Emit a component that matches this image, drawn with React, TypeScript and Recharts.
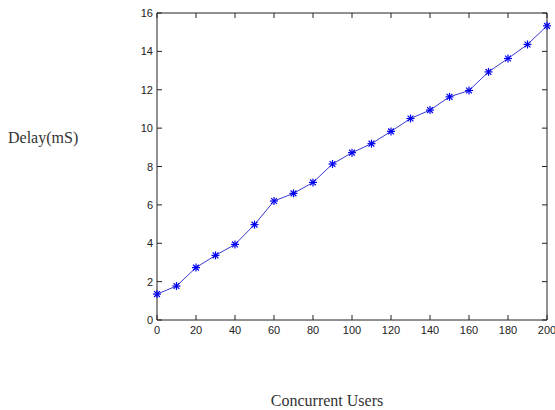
import React from 'react';
import { LineChart, Line, XAxis, YAxis } from 'recharts';

const users = [0, 10, 20, 30, 40, 50, 60, 70, 80, 90, 100, 110, 120, 130, 140, 150, 160, 170, 180, 190, 200];
const delay = [1.35, 1.77, 2.73, 3.37, 3.94, 4.97, 6.2, 6.6, 7.17, 8.13, 8.72, 9.19, 9.83, 10.5, 10.94, 11.63, 11.96, 12.93, 13.63, 14.36, 15.33];
const xTicks = [0, 20, 40, 60, 80, 100, 120, 140, 160, 180, 200];
const yTicks = [0, 2, 4, 6, 8, 10, 12, 14, 16];

const data = users.map((u, i) => ({ x: u, y: delay[i] }));

const AXIS = '#222';
const TICK_FONT = '"Liberation Sans", Arial, sans-serif';
const LEN = 5;

const LeftTick = (p: any) => (
  <g>
    <line x1={p.x} y1={p.y} x2={p.x + LEN} y2={p.y} stroke={AXIS} />
    <text x={p.x - 4} y={p.y + 4} textAnchor="end" fontSize={11} fontFamily={TICK_FONT} fill="#222">
      {p.payload.value}
    </text>
  </g>
);
const RightTick = (p: any) => (
  <line x1={p.x} y1={p.y} x2={p.x - LEN} y2={p.y} stroke={AXIS} />
);
const BottomTick = (p: any) => (
  <g>
    <line x1={p.x} y1={p.y} x2={p.x} y2={p.y - LEN} stroke={AXIS} />
    <text x={p.x} y={p.y + 14} textAnchor="middle" fontSize={11} fontFamily={TICK_FONT} fill="#222">
      {p.payload.value}
    </text>
  </g>
);
const TopTick = (p: any) => (
  <line x1={p.x} y1={p.y} x2={p.x} y2={p.y + LEN} stroke={AXIS} />
);

const Star = (p: any) => {
  const { cx, cy } = p;
  if (cx == null || cy == null) return null;
  const r = 4;
  const d = 2.9;
  return (
    <g stroke="#0000f0" strokeWidth={1.2}>
      <line x1={cx - r} y1={cy} x2={cx + r} y2={cy} />
      <line x1={cx} y1={cy - r} x2={cx} y2={cy + r} />
      <line x1={cx - d} y1={cy - d} x2={cx + d} y2={cy + d} />
      <line x1={cx - d} y1={cy + d} x2={cx + d} y2={cy - d} />
    </g>
  );
};

const YTitle = (p: any) => {
  const vb = p.viewBox || {};
  return (
    <text x={(vb.x ?? 0) + 8} y={(vb.y ?? 0) + 130} fontSize={16} fontFamily='"Liberation Serif", "Times New Roman", serif' fill="#333">
      Delay(mS)
    </text>
  );
};
const XTitle = (p: any) => {
  const vb = p.viewBox || {};
  return (
    <text x={(vb.x ?? 0) + (vb.width ?? 0) / 2 - 25} y={(vb.y ?? 0) + 86} textAnchor="middle" fontSize={16} fontFamily='"Liberation Serif", "Times New Roman", serif' fill="#333">
      Concurrent Users
    </text>
  );
};

export default function App() {
  return (
    <div style={{ position: 'absolute', left: 0, top: 0, width: 555, height: 410, background: '#fff' }}>
      <LineChart width={555} height={410} data={data} margin={{ top: 0, right: 0, bottom: 0, left: 0 }}>
        <XAxis
          dataKey="x"
          type="number"
          domain={[0, 200]}
          ticks={xTicks}
          height={90}
          stroke={AXIS}
          tickLine={false}
          tickSize={0}
          tickMargin={0}
          tick={<BottomTick />}
          interval={0}
          label={<XTitle />}
        />
        <XAxis
          xAxisId="top"
          orientation="top"
          dataKey="x"
          type="number"
          domain={[0, 200]}
          ticks={xTicks}
          height={13}
          stroke={AXIS}
          tickLine={false}
          tickSize={0}
          tickMargin={0}
          tick={<TopTick />}
          interval={0}
          allowDataOverflow
        />
        <YAxis
          type="number"
          domain={[0, 16]}
          ticks={yTicks}
          width={157}
          stroke={AXIS}
          tickLine={false}
          tickSize={0}
          tickMargin={0}
          tick={<LeftTick />}
          interval={0}
          label={<YTitle />}
        />
        <YAxis
          yAxisId="right"
          orientation="right"
          type="number"
          domain={[0, 16]}
          ticks={yTicks}
          width={8}
          stroke={AXIS}
          tickLine={false}
          tickSize={0}
          tickMargin={0}
          tick={<RightTick />}
          interval={0}
          allowDataOverflow
        />
        <Line
          dataKey="y"
          stroke="#3a3ad0"
          strokeWidth={1}
          dot={<Star />}
          activeDot={false}
          isAnimationActive={false}
        />
      </LineChart>
    </div>
  );
}
